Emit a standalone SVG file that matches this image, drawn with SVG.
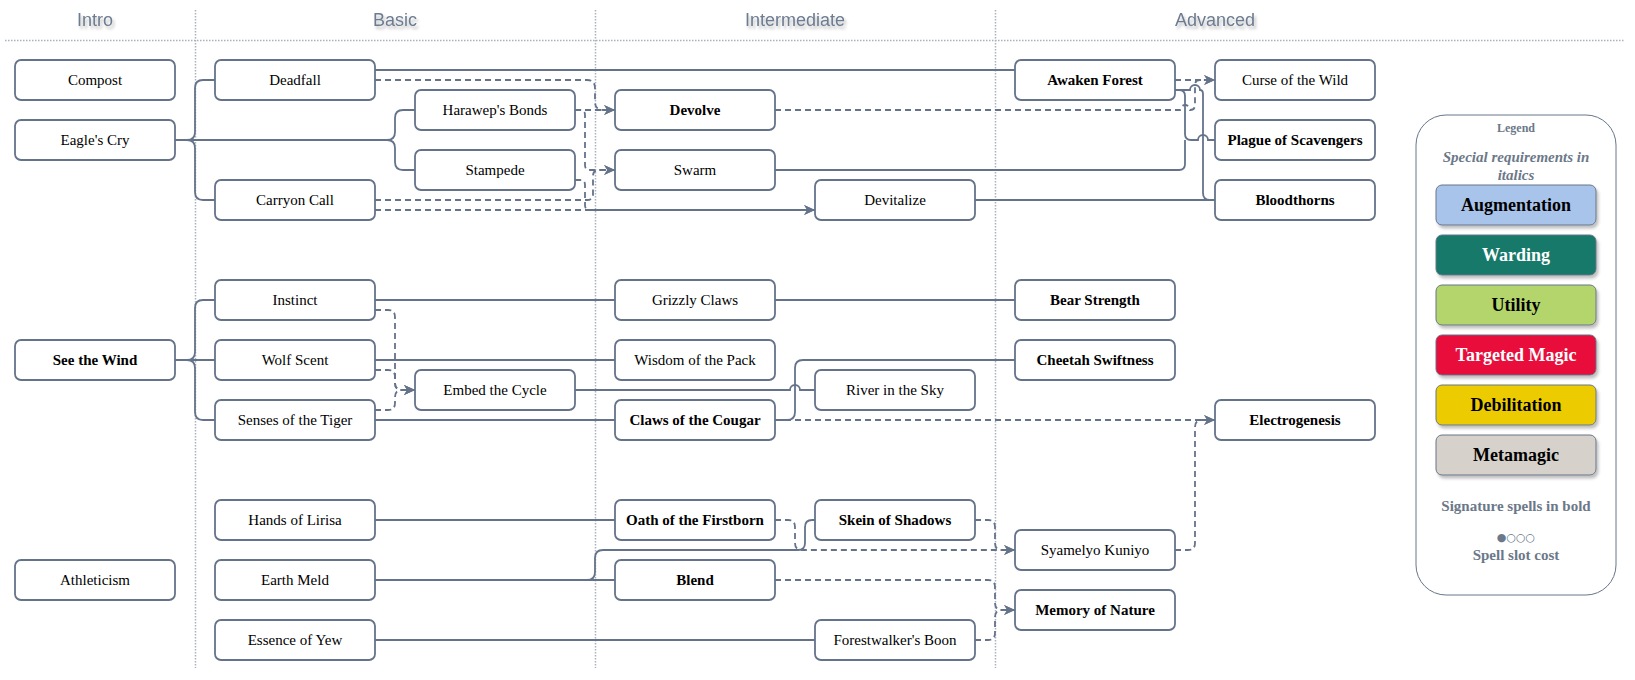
<svg xmlns="http://www.w3.org/2000/svg" width="1635" height="680" viewBox="0 0 1635 680">
<defs>
<filter id="tsh" x="-20%" y="-40%" width="140%" height="180%"><feDropShadow dx="2" dy="3" stdDeviation="1.5" flood-color="#000" flood-opacity="0.25"/></filter>
<filter id="bsh" x="-10%" y="-20%" width="120%" height="150%"><feDropShadow dx="2" dy="3" stdDeviation="1.5" flood-color="#000" flood-opacity="0.25"/></filter>
<marker id="ar" viewBox="0 0 10 10" refX="10" refY="5" markerWidth="11" markerHeight="11" markerUnits="userSpaceOnUse" orient="auto"><path d="M0,0.5 L10,5 L0,9.5 L3,5 z" fill="#64738a" stroke="none"/></marker>
<style>
.hdr{font-family:"Liberation Sans",Arial,sans-serif;font-size:18px;fill:#6d7c90;text-anchor:middle}
.div{stroke:#a9b1bc;stroke-width:1.5;stroke-dasharray:1.5 1.5;fill:none}
.n rect{fill:#fff;stroke:#64738a;stroke-width:1.8}
.n text{font-family:"Liberation Serif","Times New Roman",serif;font-size:15px;fill:#000;text-anchor:middle}
.b text{font-weight:bold}
.c path{fill:none;stroke:#64738a;stroke-width:1.8}
.c path.d{stroke-dasharray:6 4;marker-end:url(#ar)}
.lg{font-family:"Liberation Serif","Times New Roman",serif;fill:#6b7889;text-anchor:middle;font-weight:bold}
.lb rect{stroke:#677689;stroke-width:1;filter:url(#bsh)}
.lb text{font-family:"Liberation Serif","Times New Roman",serif;font-size:18px;font-weight:bold;text-anchor:middle}
</style>
</defs>
<rect width="1635" height="680" fill="#fff"/>
<g id="headers">
<text class="hdr" x="95" y="26" filter="url(#tsh)">Intro</text>
<text class="hdr" x="395" y="26" filter="url(#tsh)">Basic</text>
<text class="hdr" x="795" y="26" filter="url(#tsh)">Intermediate</text>
<text class="hdr" x="1215" y="26" filter="url(#tsh)">Advanced</text>
<path class="div" d="M5,40.5 H1625"/>
<path class="div" d="M195.5,10 V668 M595.5,10 V668 M995.5,10 V668"/>
</g>
<g id="connectors" class="c">
<path d="M175,140 H187 Q195,140 195,132 V88 Q195,80 203,80 H215"/>
<path d="M175,140 H187 Q195,140 195,148 V192 Q195,200 203,200 H215"/>
<path d="M175,140 H387 Q395,140 395,132 V118 Q395,110 403,110 H415"/>
<path d="M175,140 H387 Q395,140 395,148 V162 Q395,170 403,170 H415"/>
<path d="M375,70 H1015"/>
<path class="d" d="M375,80 H587 Q595,80 595,88 V102 Q595,110 603,110 H615"/>
<path class="d" d="M575,110 H615"/>
<path class="d" d="M575,110 H580 Q585,110 585,115 V165 Q585,170 590,170 H615"/>
<path class="d" d="M575,180 H580 Q585,180 585,185 V205 Q585,210 590,210 H815"/>
<path class="d" d="M375,200 H587 Q593,200 593,194 V176 Q593,170 599,170 H615"/>
<path class="d" d="M375,210 H815"/>
<path class="d" d="M775,110 H1180 A5,5 0 0 1 1190,110 Q1195,110 1195,105 V85 Q1195,80 1200,80 H1215"/>
<path class="d" d="M1175,80 H1215"/>
<path d="M1175,90 H1179 Q1185,90 1185,96 V134 Q1185,140 1191,140 H1198 A5,5 0 0 1 1208,140 H1215"/>
<path d="M1175,90 H1190 A5,5 0 0 1 1200,90 Q1203,90 1203,94 V193 Q1203,200 1210,200 H1215"/>
<path d="M775,170 H1179 Q1185,170 1185,164 V140"/>
<path d="M975,200 H1215"/>
<path d="M175,360 H187 Q195,360 195,352 V308 Q195,300 203,300 H215"/>
<path d="M175,360 H215"/>
<path d="M175,360 H187 Q195,360 195,368 V412 Q195,420 203,420 H215"/>
<path d="M375,300 H615"/>
<path d="M775,300 H1015"/>
<path d="M375,360 H615"/>
<path d="M375,420 H615"/>
<path class="d" d="M375,310 H388 Q395,310 395,317 V383 Q395,390 402,390 H415"/>
<path class="d" d="M375,370 H388 Q395,370 395,377 V383 Q395,390 402,390 H415"/>
<path class="d" d="M375,410 H388 Q395,410 395,403 V397 Q395,390 402,390 H415"/>
<path d="M575,390 H790 A5,5 0 0 1 800,390 H815"/>
<path d="M775,420 H787 Q795,420 795,412 V368 Q795,360 803,360 H1015"/>
<path class="d" d="M775,420 H1215"/>
<path class="d" d="M1175,550 H1188 Q1195,550 1195,543 V427 Q1195,420 1202,420 H1215"/>
<path d="M375,520 H615"/>
<path d="M375,580 H615"/>
<path d="M375,580 H587 Q595,580 595,572 V558 Q595,550 603,550 H798 Q805,550 805,543 V527 Q805,520 812,520 H815"/>
<path class="d" d="M775,520 H788 Q795,520 795,527 V543 Q795,550 802,550 H1015"/>
<path class="d" d="M975,520 H988 Q995,520 995,527 V543 Q995,550 1002,550 H1015"/>
<path class="d" d="M775,580 H988 Q995,580 995,587 V603 Q995,610 1002,610 H1015"/>
<path class="d" d="M975,640 H988 Q995,640 995,633 V617 Q995,610 1002,610 H1015"/>
<path d="M375,640 H815"/>
</g>
<g id="n-compost" class="n"><rect x="15" y="60" width="160" height="40" rx="6"/><text x="95" y="85">Compost</text></g>
<g id="n-eagle" class="n"><rect x="15" y="120" width="160" height="40" rx="6"/><text x="95" y="145">Eagle's Cry</text></g>
<g id="n-deadfall" class="n"><rect x="215" y="60" width="160" height="40" rx="6"/><text x="295" y="85">Deadfall</text></g>
<g id="n-carryon" class="n"><rect x="215" y="180" width="160" height="40" rx="6"/><text x="295" y="205">Carryon Call</text></g>
<g id="n-harawep" class="n"><rect x="415" y="90" width="160" height="40" rx="6"/><text x="495" y="115">Harawep's Bonds</text></g>
<g id="n-stampede" class="n"><rect x="415" y="150" width="160" height="40" rx="6"/><text x="495" y="175">Stampede</text></g>
<g id="n-devolve" class="n b"><rect x="615" y="90" width="160" height="40" rx="6"/><text x="695" y="115">Devolve</text></g>
<g id="n-swarm" class="n"><rect x="615" y="150" width="160" height="40" rx="6"/><text x="695" y="175">Swarm</text></g>
<g id="n-devitalize" class="n"><rect x="815" y="180" width="160" height="40" rx="6"/><text x="895" y="205">Devitalize</text></g>
<g id="n-awaken" class="n b"><rect x="1015" y="60" width="160" height="40" rx="6"/><text x="1095" y="85">Awaken Forest</text></g>
<g id="n-curse" class="n"><rect x="1215" y="60" width="160" height="40" rx="6"/><text x="1295" y="85">Curse of the Wild</text></g>
<g id="n-plague" class="n b"><rect x="1215" y="120" width="160" height="40" rx="6"/><text x="1295" y="145">Plague of Scavengers</text></g>
<g id="n-bloodthorns" class="n b"><rect x="1215" y="180" width="160" height="40" rx="6"/><text x="1295" y="205">Bloodthorns</text></g>
<g id="n-seewind" class="n b"><rect x="15" y="340" width="160" height="40" rx="6"/><text x="95" y="365">See the Wind</text></g>
<g id="n-instinct" class="n"><rect x="215" y="280" width="160" height="40" rx="6"/><text x="295" y="305">Instinct</text></g>
<g id="n-wolf" class="n"><rect x="215" y="340" width="160" height="40" rx="6"/><text x="295" y="365">Wolf Scent</text></g>
<g id="n-tiger" class="n"><rect x="215" y="400" width="160" height="40" rx="6"/><text x="295" y="425">Senses of the Tiger</text></g>
<g id="n-embed" class="n"><rect x="415" y="370" width="160" height="40" rx="6"/><text x="495" y="395">Embed the Cycle</text></g>
<g id="n-grizzly" class="n"><rect x="615" y="280" width="160" height="40" rx="6"/><text x="695" y="305">Grizzly Claws</text></g>
<g id="n-wisdom" class="n"><rect x="615" y="340" width="160" height="40" rx="6"/><text x="695" y="365">Wisdom of the Pack</text></g>
<g id="n-cougar" class="n b"><rect x="615" y="400" width="160" height="40" rx="6"/><text x="695" y="425">Claws of the Cougar</text></g>
<g id="n-river" class="n"><rect x="815" y="370" width="160" height="40" rx="6"/><text x="895" y="395">River in the Sky</text></g>
<g id="n-bear" class="n b"><rect x="1015" y="280" width="160" height="40" rx="6"/><text x="1095" y="305">Bear Strength</text></g>
<g id="n-cheetah" class="n b"><rect x="1015" y="340" width="160" height="40" rx="6"/><text x="1095" y="365">Cheetah Swiftness</text></g>
<g id="n-electro" class="n b"><rect x="1215" y="400" width="160" height="40" rx="6"/><text x="1295" y="425">Electrogenesis</text></g>
<g id="n-hands" class="n"><rect x="215" y="500" width="160" height="40" rx="6"/><text x="295" y="525">Hands of Lirisa</text></g>
<g id="n-athleticism" class="n"><rect x="15" y="560" width="160" height="40" rx="6"/><text x="95" y="585">Athleticism</text></g>
<g id="n-earthmeld" class="n"><rect x="215" y="560" width="160" height="40" rx="6"/><text x="295" y="585">Earth Meld</text></g>
<g id="n-yew" class="n"><rect x="215" y="620" width="160" height="40" rx="6"/><text x="295" y="645">Essence of Yew</text></g>
<g id="n-oath" class="n b"><rect x="615" y="500" width="160" height="40" rx="6"/><text x="695" y="525">Oath of the Firstborn</text></g>
<g id="n-blend" class="n b"><rect x="615" y="560" width="160" height="40" rx="6"/><text x="695" y="585">Blend</text></g>
<g id="n-skein" class="n b"><rect x="815" y="500" width="160" height="40" rx="6"/><text x="895" y="525">Skein of Shadows</text></g>
<g id="n-forestwalker" class="n"><rect x="815" y="620" width="160" height="40" rx="6"/><text x="895" y="645">Forestwalker's Boon</text></g>
<g id="n-syamelyo" class="n"><rect x="1015" y="530" width="160" height="40" rx="6"/><text x="1095" y="555">Syamelyo Kuniyo</text></g>
<g id="n-memory" class="n b"><rect x="1015" y="590" width="160" height="40" rx="6"/><text x="1095" y="615">Memory of Nature</text></g>
<g id="legend">
<rect x="1416" y="115" width="200" height="480" rx="30" fill="#fff" stroke="#677689" stroke-width="1"/>
<text class="lg" x="1516" y="132" font-size="12">Legend</text>
<text class="lg" x="1516" y="162" font-size="15" font-style="italic">Special requirements in</text>
<text class="lg" x="1516" y="180" font-size="15" font-style="italic">italics</text>
<g class="lb">
<rect x="1436" y="185" width="160" height="40" rx="6" fill="#a9c4eb"/><text x="1516" y="211" fill="#000">Augmentation</text>
<rect x="1436" y="235" width="160" height="40" rx="6" fill="#15796b"/><text x="1516" y="261" fill="#fff">Warding</text>
<rect x="1436" y="285" width="160" height="40" rx="6" fill="#b4d56c"/><text x="1516" y="311" fill="#000">Utility</text>
<rect x="1436" y="335" width="160" height="40" rx="6" fill="#e8073a"/><text x="1516" y="361" fill="#fff">Targeted Magic</text>
<rect x="1436" y="385" width="160" height="40" rx="6" fill="#eccc00"/><text x="1516" y="411" fill="#000">Debilitation</text>
<rect x="1436" y="435" width="160" height="40" rx="6" fill="#d6d1cb"/><text x="1516" y="461" fill="#000">Metamagic</text>
</g>
<text class="lg" x="1516" y="511" font-size="15">Signature spells in bold</text>
<text x="1516" y="541" font-family="'DejaVu Sans',sans-serif" font-size="11" fill="#6b7889" text-anchor="middle">●○○○</text>
<text class="lg" x="1516" y="560" font-size="15">Spell slot cost</text>
</g>
</svg>
